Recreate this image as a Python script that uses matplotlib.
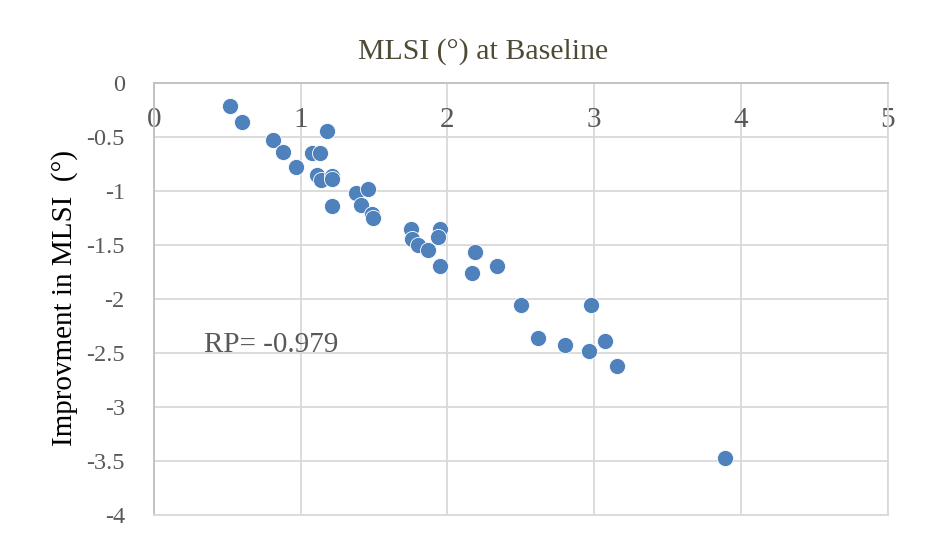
import numpy as np
import matplotlib.pyplot as plt

# MLSI at baseline vs improvement in MLSI (degrees)
baseline = [0.518, 0.600, 0.809, 0.879, 0.968, 1.179, 1.075, 1.132, 1.113, 1.136,
            1.211, 1.211, 1.211, 1.377, 1.461, 1.409, 1.484, 1.495, 1.750, 1.757,
            1.802, 1.870, 1.950, 1.938, 1.950, 2.188, 2.166, 2.336, 2.502, 2.979,
            2.620, 2.802, 2.967, 3.070, 3.158, 3.892]
improvement = [-0.213, -0.367, -0.528, -0.644, -0.783, -0.444, -0.654, -0.654, -0.855, -0.901,
               -0.864, -0.892, -1.144, -1.024, -0.987, -1.132, -1.216, -1.256, -1.357, -1.450,
               -1.503, -1.549, -1.357, -1.426, -1.694, -1.570, -1.765, -1.694, -2.058, -2.058,
               -2.367, -2.429, -2.484, -2.389, -2.620, -3.478]
x_ticks = [0, 1, 2, 3, 4, 5]
y_ticks = [0, -0.5, -1, -1.5, -2, -2.5, -3, -3.5, -4]
y_tick_labels = ['0', '-0.5', '-1', '-1.5', '-2', '-2.5', '-3', '-3.5', '-4']
rp_value = -0.979

plt.rcParams['font.family'] = ['Liberation Serif', 'DejaVu Serif']

fig = plt.figure(figsize=(9.25, 5.47), dpi=100)
ax = fig.add_axes([0.1665, 0.059, 0.7932, 0.7898])

grid_col = '#d9d9d9'
ax.scatter(baseline, improvement, s=135, color='#4f81bd', edgecolors='white',
           linewidths=0.6, zorder=3)

ax.set_xlim(0, 5)
ax.set_ylim(-4, 0)
ax.set_xticks(x_ticks)
ax.set_yticks(y_ticks)
ax.set_yticklabels(y_tick_labels)
ax.grid(True, color=grid_col, linewidth=1.3, zorder=0)
ax.set_axisbelow(True)

# x axis sits at y=0 (top), labels drawn just under it
ax.tick_params(axis='x', top=True, labeltop=True, bottom=False, labelbottom=False,
               length=0, pad=-36, labelsize=21, labelcolor='#595959')
ax.tick_params(axis='y', length=0, pad=21, labelsize=17.5, labelcolor='#595959')

ax.spines['top'].set_color('#bfbfbf')
ax.spines['top'].set_linewidth(1.3)
ax.spines['left'].set_color('#bfbfbf')
ax.spines['left'].set_linewidth(1.3)
ax.spines['right'].set_color(grid_col)
ax.spines['right'].set_linewidth(1.3)
ax.spines['bottom'].set_color(grid_col)
ax.spines['bottom'].set_linewidth(1.3)

ax.text(0.341, -2.43, 'RP= %.3f' % rp_value, ha='left', va='center',
        fontsize=21, color='#595959')

fig.text(483 / 925, 1 - 52 / 547, 'MLSI (°) at Baseline', ha='center', va='center',
         fontsize=21.5, color='#4f4a35')
fig.text(65 / 925, 1 - 298 / 547, 'Improvment in MLSI  (°)', ha='center', va='center',
         rotation=90, fontsize=21, color='black')

fig.savefig('out.png', dpi=100)
